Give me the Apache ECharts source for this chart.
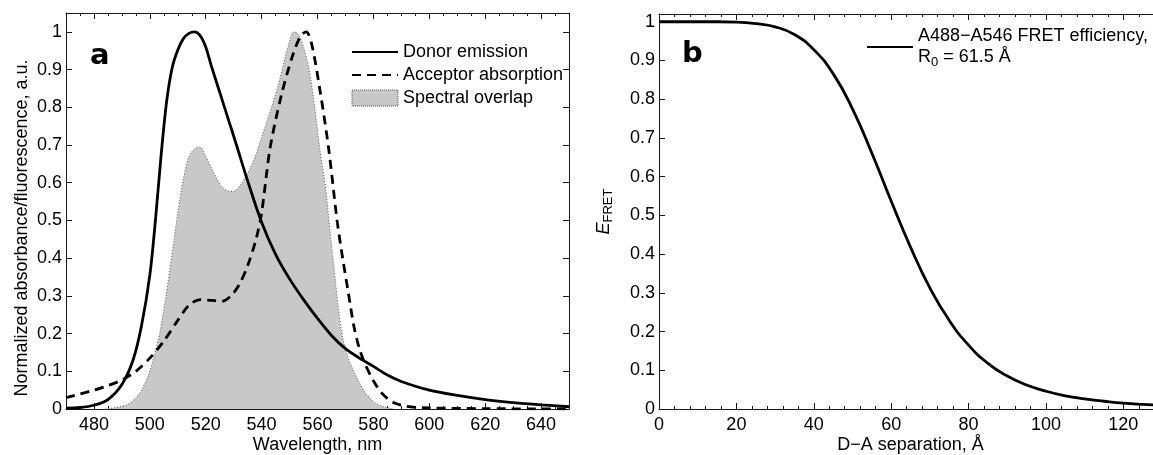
<!DOCTYPE html>
<html>
<head>
<meta charset="utf-8">
<title>FRET spectra</title>
<script src="https://cdn.jsdelivr.net/npm/echarts@6/dist/echarts.min.js"></script>
<style>
  html, body { margin: 0; padding: 0; background: #fff; }
  #main { width: 1153px; height: 455px; }
</style>
</head>
<body>
<div id="main"></div>
<script>
// panel a: spectra, [wavelength nm, normalized value]
var donorEmission = [
  [470, 0.002], [475, 0.004], [480, 0.01], [485, 0.025], [490, 0.065], [494, 0.13],
  [497, 0.22], [500, 0.355], [502, 0.5], [504, 0.67], [506, 0.815], [508, 0.905],
  [510, 0.952], [512, 0.982], [514, 0.996], [516, 1.0], [518, 0.99], [520, 0.96],
  [522, 0.91], [525, 0.84], [528, 0.77], [531, 0.7], [535, 0.605], [540, 0.495],
  [545, 0.41], [550, 0.345], [555, 0.29], [560, 0.24], [565, 0.195], [570, 0.16],
  [575, 0.135], [580, 0.113], [585, 0.09], [590, 0.073], [600, 0.05], [610, 0.036],
  [620, 0.025], [630, 0.017], [640, 0.011], [650, 0.006]
];
var acceptorAbsorption = [
  [470, 0.03], [475, 0.04], [480, 0.05], [485, 0.062], [490, 0.077], [495, 0.1],
  [500, 0.135], [505, 0.18], [510, 0.235], [514, 0.275], [518, 0.29], [522, 0.288],
  [526, 0.286], [529, 0.3], [532, 0.33], [535, 0.38], [538, 0.45], [540, 0.52],
  [543, 0.69], [547, 0.83], [551, 0.935], [554, 0.99], [556, 1.0], [558, 0.965],
  [561, 0.84], [564, 0.69], [567, 0.5], [569, 0.4], [571, 0.31], [573, 0.22],
  [575, 0.16], [577, 0.12], [580, 0.075], [583, 0.042], [587, 0.018], [592, 0.007],
  [600, 0.003], [620, 0.001], [650, 0.0]
];
var spectralOverlap = [
  [484, 0.0], [488, 0.004], [492, 0.012], [495, 0.03], [497, 0.05], [499.5, 0.09],
  [501.5, 0.14], [503.5, 0.2], [506, 0.31], [508.5, 0.44], [510, 0.52], [512, 0.61],
  [514, 0.67], [516, 0.69], [518, 0.695], [520, 0.67], [522, 0.64], [524, 0.61],
  [526, 0.588], [528, 0.578], [530, 0.577], [532, 0.59], [534, 0.612], [536, 0.64],
  [538, 0.675], [540, 0.72], [542, 0.765], [544, 0.81], [546, 0.86], [548, 0.92],
  [550, 0.975], [551.5, 1.0], [553, 0.995], [555, 0.96], [557, 0.9], [559, 0.8],
  [561, 0.68], [563, 0.58], [564.5, 0.47], [566, 0.37], [567.5, 0.265], [569, 0.19],
  [571, 0.135], [573, 0.1], [575, 0.07], [577, 0.045], [580, 0.02], [583, 0.008],
  [587, 0.0]
];

// panel b: FRET efficiency vs distance
var separation = [0, 5, 10, 15, 20, 25, 30, 35, 40, 45, 50, 55, 60, 65, 70, 75, 80, 85, 90, 95, 100, 105, 110, 115, 120, 125, 130];
var efficiency = [1.0, 1.0, 1.0, 1.0, 0.999, 0.995, 0.987, 0.967, 0.928, 0.866, 0.775, 0.661, 0.537, 0.418, 0.313, 0.229, 0.165, 0.118, 0.085, 0.062, 0.046, 0.034, 0.026, 0.02, 0.015, 0.012, 0.01];

// tick labels
var xTicksA = [480, 500, 520, 540, 560, 580, 600, 620, 640];
var xTicksB = [0, 20, 40, 60, 80, 100, 120];

var minorA = [];
for (var t = 470; t <= 650; t += 5) { if (xTicksA.indexOf(t) < 0) minorA.push(t); }
var minorB = [];
for (var t2 = 0; t2 <= 130; t2 += 4) { if (xTicksB.indexOf(t2) < 0) minorB.push(t2); }

var FONT = 'Liberation Sans';
var AXIS_COLOR = '#1a1a1a';
var LINE_W = 2.8;

function xAxisDef(grid, min, max, pos, ticks, len, showLine, showLabel, name) {
  return {
    type: 'value', gridIndex: grid, min: min, max: max, position: pos,
    name: name || '', nameLocation: 'middle', nameGap: 27, nameMoveOverlap: false,
    nameTextStyle: { color: '#000', fontFamily: FONT, fontSize: 18 },
    axisLine: { show: showLine, onZero: false, lineStyle: { color: AXIS_COLOR, width: 1 } },
    axisTick: { show: true, inside: true, length: len, customValues: ticks, lineStyle: { color: AXIS_COLOR } },
    axisLabel: { show: showLabel, customValues: ticks, margin: 7, color: '#000', fontFamily: FONT, fontSize: 18 },
    splitLine: { show: false }
  };
}

function yAxisDef(grid, max, pos, showLabel, name, rich) {
  return {
    type: 'value', gridIndex: grid, min: 0, max: max, interval: 0.1, position: pos,
    name: name || '', nameLocation: 'middle', nameGap: pos == 'left' ? 35 : 0, nameMoveOverlap: false,
    nameTextStyle: { color: '#000', fontFamily: FONT, fontSize: 18, rich: rich },
    axisLine: { show: true, onZero: false, lineStyle: { color: AXIS_COLOR, width: 1 } },
    axisTick: { show: true, inside: true, length: 6, lineStyle: { color: AXIS_COLOR } },
    axisLabel: { show: showLabel, showMaxLabel: false, margin: 4, color: '#000', fontFamily: FONT, fontSize: 18 },
    splitLine: { show: false }
  };
}

var chart = echarts.init(document.getElementById('main'), null, { renderer: 'canvas' });

var yNameA = yAxisDef(0, 1.05, 'left', true, 'Normalized absorbance/fluorescence, a.u.');
// nudge the long rotated title down a bit
yNameA.nameTextStyle.padding = [0, 34, 0, 0];

var yNameB = yAxisDef(1, 1.02, 'left', true, '{e|E}{s|FRET}', {
  e: { fontFamily: FONT, fontSize: 18, fontStyle: 'italic', color: '#000' },
  s: { fontFamily: FONT, fontSize: 13, color: '#000', padding: [10, 0, 0, 0] }
});
yNameB.nameGap = 44;

// hide the marker circle inside line legend icons
var noMarker = { opacity: 0 };

var option = {
  backgroundColor: '#fff',
  animation: false,
  grid: [
    { left: 66, top: 13, right: 584, bottom: 46, outerBoundsMode: 'none' },
    { left: 659, top: 14, right: -9, bottom: 46, outerBoundsMode: 'none' }
  ],
  xAxis: [
    xAxisDef(0, 470, 650, 'bottom', xTicksA, 6, true, true, 'Wavelength, nm'),
    xAxisDef(0, 470, 650, 'top', xTicksA, 6, true, false),
    xAxisDef(0, 470, 650, 'bottom', minorA, 3, false, false),
    xAxisDef(0, 470, 650, 'top', minorA, 3, false, false),
    xAxisDef(1, 0, 130, 'bottom', xTicksB, 6, true, true, 'D\u2212A separation, \u00c5'),
    xAxisDef(1, 0, 130, 'top', xTicksB, 6, true, false),
    xAxisDef(1, 0, 130, 'bottom', minorB, 3, false, false),
    xAxisDef(1, 0, 130, 'top', minorB, 3, false, false)
  ],
  yAxis: [
    yNameA,
    yAxisDef(0, 1.05, 'right', false),
    yNameB
  ],
  legend: [
    {
      orient: 'vertical', left: 346, top: 38, itemWidth: 46, itemHeight: 16, itemGap: 5,
      textStyle: { color: '#000', fontFamily: FONT, fontSize: 18 },
      data: [
        { name: 'Donor emission', itemStyle: noMarker },
        { name: 'Acceptor absorption', itemStyle: noMarker },
        { name: 'Spectral overlap', icon: 'rect',
          itemStyle: { color: '#c8c8c8', borderColor: '#555', borderWidth: 1, borderType: 'dotted' } }
      ]
    },
    {
      left: 861, top: 21, itemWidth: 46, itemHeight: 16,
      textStyle: {
        color: '#000', fontFamily: FONT, fontSize: 18, lineHeight: 21,
        rich: {
          r: { fontFamily: FONT, fontSize: 18, color: '#000' },
          s: { fontFamily: FONT, fontSize: 13, color: '#000', padding: [9, 0, 0, 0] }
        }
      },
      formatter: function (name) {
        return name + ',\n{r|R}{s|0}{r| = 61.5 \u00c5}';
      },
      data: [{ name: 'A488\u2212A546 FRET efficiency', itemStyle: noMarker }]
    }
  ],
  graphic: [
    { type: 'text', left: 90, top: 42, style: { text: 'a', font: 'bold 29px "DejaVu Sans"', fill: '#000' } },
    { type: 'text', left: 682, top: 40, style: { text: 'b', font: 'bold 29px "DejaVu Sans"', fill: '#000' } }
  ],
  series: [
    {
      name: 'Spectral overlap', type: 'line', xAxisIndex: 0, yAxisIndex: 0,
      data: spectralOverlap, smooth: 0.3, symbol: 'none', z: 1,
      itemStyle: { color: '#c8c8c8' },
      lineStyle: { color: '#555', width: 1, type: [1, 2] },
      areaStyle: { color: '#c8c8c8', opacity: 1 }
    },
    {
      name: 'Donor emission', type: 'line', xAxisIndex: 0, yAxisIndex: 0,
      data: donorEmission, smooth: 0.3, symbol: 'none', z: 3,
      itemStyle: { color: '#000' },
      lineStyle: { color: '#000', width: LINE_W }
    },
    {
      name: 'Acceptor absorption', type: 'line', xAxisIndex: 0, yAxisIndex: 0,
      data: acceptorAbsorption, smooth: 0.3, symbol: 'none', z: 3,
      itemStyle: { color: '#000' },
      lineStyle: { color: '#000', width: LINE_W, type: [9, 6] }
    },
    {
      name: 'A488\u2212A546 FRET efficiency', type: 'line', xAxisIndex: 4, yAxisIndex: 2,
      data: separation.map(function (d, i) { return [d, efficiency[i]]; }),
      smooth: 0.5, symbol: 'none',
      itemStyle: { color: '#000' },
      lineStyle: { color: '#000', width: LINE_W }
    }
  ]
};

chart.setOption(option);
</script>
</body>
</html>
